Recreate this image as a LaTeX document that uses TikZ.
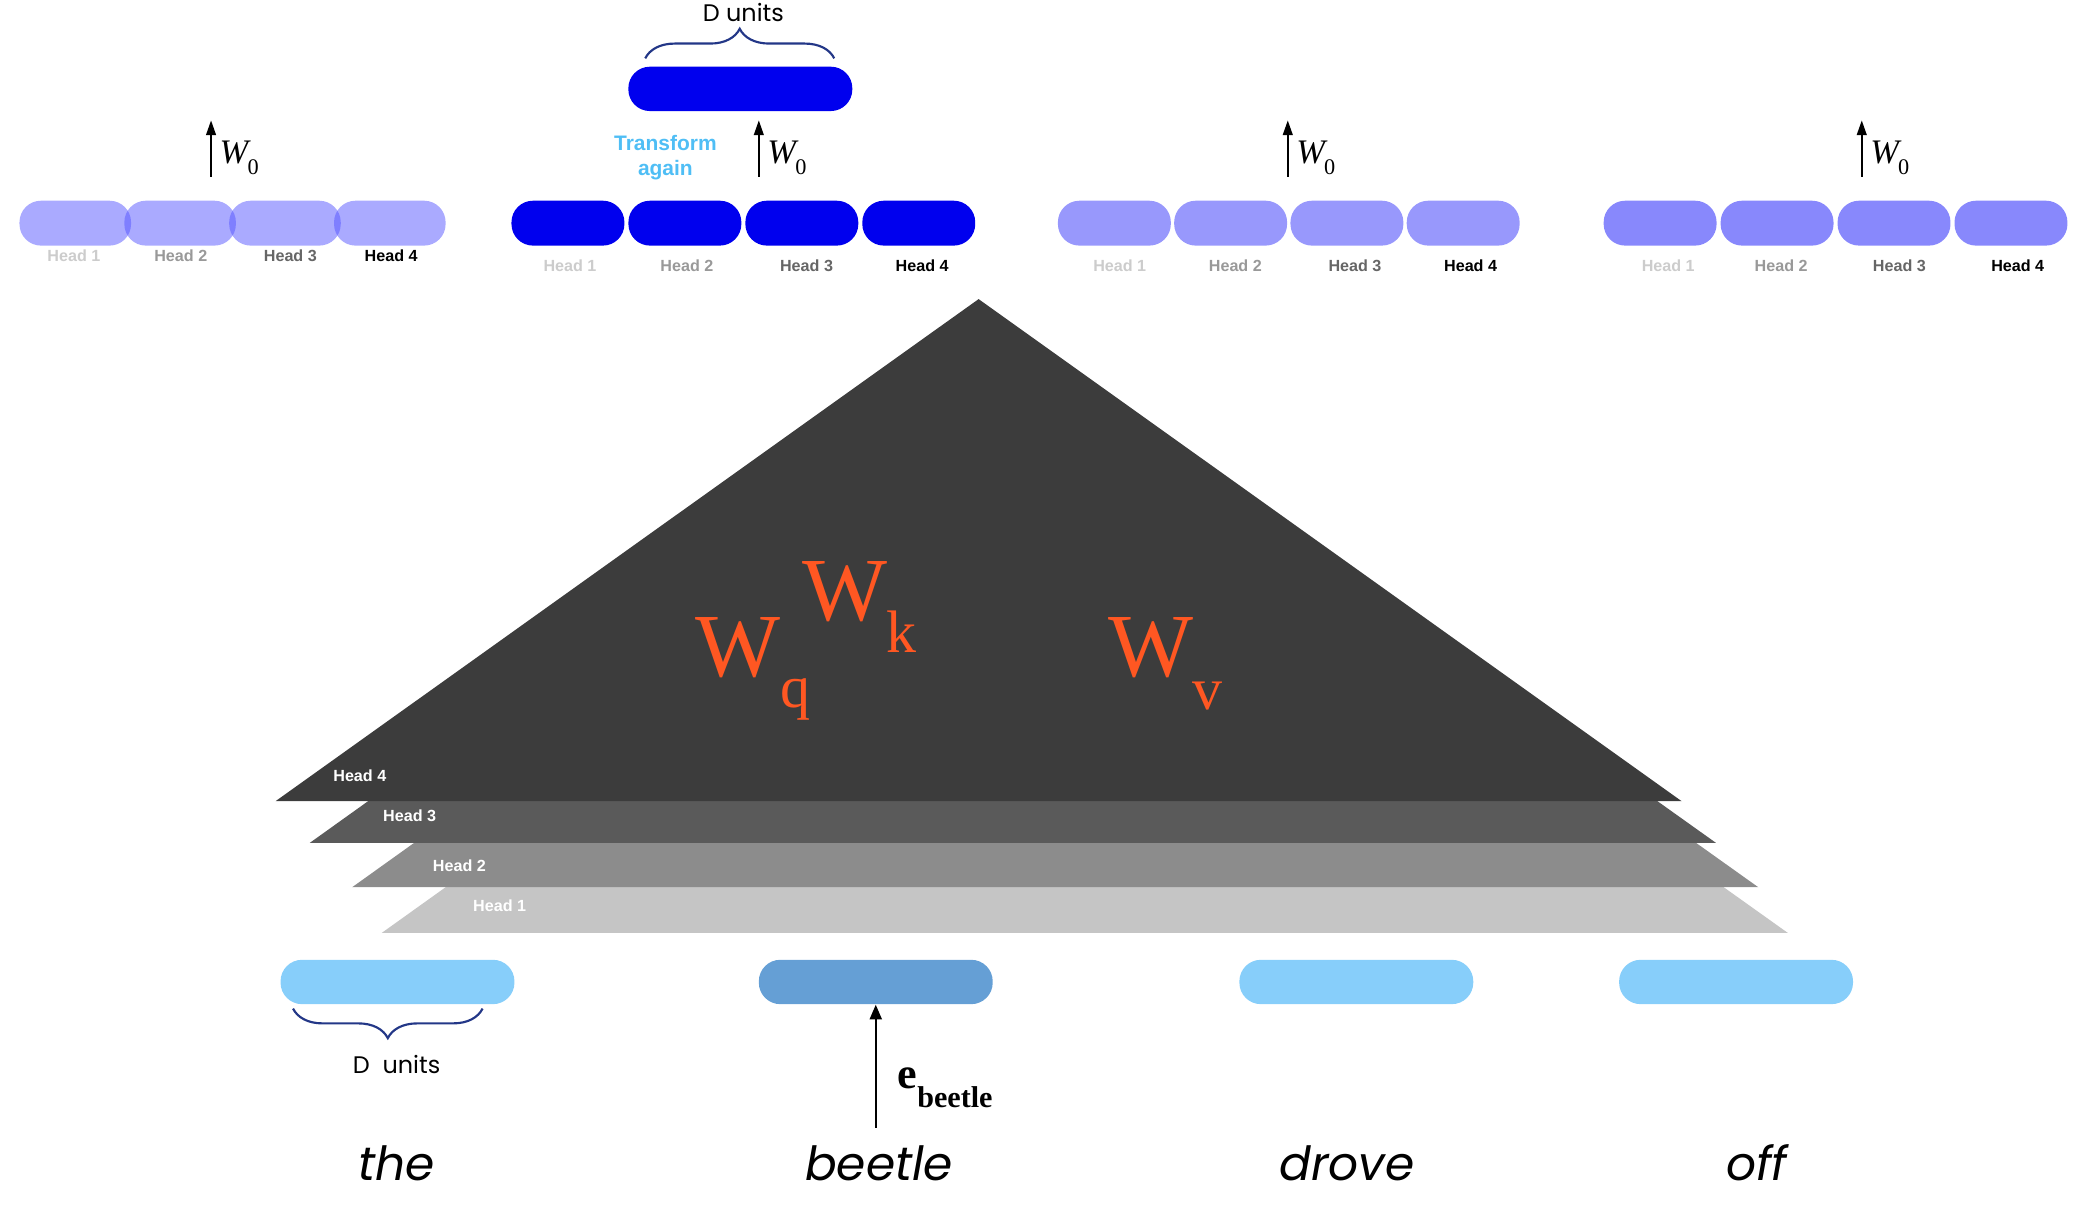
\documentclass[tikz,border=0pt]{standalone}
\usepackage{fontspec}
\setmainfont{Liberation Serif}
\newfontfamily\hsans{Liberation Sans}
\newfontfamily\popp{Poppins}
\usetikzlibrary{arrows.meta,decorations.pathreplacing}
\definecolor{gA}{RGB}{85,85,255}
\definecolor{gB}{RGB}{0,0,238}
\definecolor{gC}{RGB}{152,152,252}
\definecolor{gD}{RGB}{136,136,252}
\definecolor{skyp}{RGB}{135,206,250}
\definecolor{steelp}{RGB}{101,159,213}
\definecolor{tA}{RGB}{60,60,60}
\definecolor{tB}{RGB}{90,90,90}
\definecolor{tC}{RGB}{140,140,140}
\definecolor{tD}{RGB}{197,197,197}
\definecolor{wred}{RGB}{255,87,34}
\definecolor{tblue}{RGB}{79,190,245}
\definecolor{brnavy}{RGB}{35,55,135}
\definecolor{hl1}{RGB}{204,204,204}
\definecolor{hl2}{RGB}{153,153,153}
\definecolor{hl3}{RGB}{102,102,102}
\newcommand{\wzero}{{\itshape W}\kern-0.3pt\raisebox{-4pt}{\fontsize{8.3}{9}\selectfont 0}}
\begin{document}
\begin{tikzpicture}[x=0.5pt,y=-0.5pt,
  pill/.style={rectangle, rounded corners=8pt, minimum width=42pt, minimum height=16.7pt, inner sep=0pt, draw=none},
  bigpill/.style={rectangle, rounded corners=8pt, minimum width=87pt, minimum height=16.5pt, inner sep=0pt, draw=none},
  hlab/.style={anchor=base, inner sep=0pt, font=\hsans\bfseries\fontsize{6}{7}\selectfont},
  tlab/.style={anchor=base west, inner sep=0pt, text=white, font=\hsans\bfseries\fontsize{6}{7}\selectfont},
  wlab/.style={anchor=base west, inner sep=0pt, font=\fontsize{12.8}{15}\selectfont},
  uparrow/.style={-{Triangle[length=5.5pt,width=3.6pt]}, line width=0.75pt, black},
  bigw/.style={anchor=base west, inner sep=0pt, text=wred, font=\fontsize{33.5}{40}\selectfont},
  subw/.style={anchor=base west, inner sep=0pt, text=wred, font=\fontsize{22.3}{26}\selectfont},
  word/.style={anchor=base, inner sep=0pt, font=\popp\itshape\fontsize{17.5}{21}\selectfont},
  dunits/.style={anchor=base, inner sep=0pt, font=\popp\fontsize{8.9}{11}\selectfont},
  bracestyle/.style={draw=brnavy, line width=0.8pt, decorate, decoration={brace, amplitude=11pt}}
]
\useasboundingbox (0,0) rectangle (1560,902);

% ---- pyramid layers ----
\fill[tD] (284,694) -- (806,320.5) -- (1330,694) -- cycle;
\fill[tC] (262,660) -- (784,286.5) -- (1308,660) -- cycle;
\fill[tB] (230.5,627) -- (752.5,253.5) -- (1276.5,627) -- cycle;
\fill[tA] (205,596) -- (728,222.5) -- (1251,596) -- cycle;
\node[tlab] (L4) at (247.6,581.6) {Head 4};
\node[tlab] (L3) at (284.7,611) {Head 3};
\node[tlab] (L2) at (321.7,648.6) {Head 2};
\node[tlab] (L1) at (351.6,678) {Head 1};

% ---- W matrices ----
\node[bigw] (wq) at (517,503) {W};
\node[subw] (wqs) at (580,526) {q};
\node[bigw] (wk) at (596.4,461.4) {W};
\node[subw] (wks) at (659,485.7) {k};
\node[bigw] (wv) at (824,503.5) {W};
\node[subw] (wvs) at (887,528) {v};

% ---- group 1 (the) ----
\foreach \c/\n in {56/a,134/b,212/c,290/d}{
  \node[pill, fill=gA, fill opacity=0.5, minimum width=41.5pt] (g1\n) at (\c,166) {};
}
\node[hlab, text=hl1] (g1l1) at (55,194.7) {Head 1};
\node[hlab, text=hl2] (g1l2) at (134.5,194.7) {Head 2};
\node[hlab, text=hl3] (g1l3) at (216,194.7) {Head 3};
\node[hlab, text=black] (g1l4) at (291,194.7) {Head 4};
\coordinate (g1s) at (157,131.5);
\coordinate (g1e) at (157,89.5);
\draw[uparrow] (g1s) -- (g1e);
\node[wlab] (g1w) at (163,121.5) {\wzero};

% ---- group 2 (beetle) ----
\foreach \c/\n in {422.5/a,509.5/b,596.5/c,683.5/d}{
  \node[pill, fill=gB] (g2\n) at (\c,166) {};
}
\node[hlab, text=hl1] (g2l1) at (424,202) {Head 1};
\node[hlab, text=hl2] (g2l2) at (511,202) {Head 2};
\node[hlab, text=hl3] (g2l3) at (600,202) {Head 3};
\node[hlab, text=black] (g2l4) at (686,202) {Head 4};
\coordinate (g2s) at (564.5,131.5);
\coordinate (g2e) at (564.5,89.5);
\draw[uparrow] (g2s) -- (g2e);
\node[wlab] (g2w) at (570.5,121.5) {\wzero};
\node[anchor=north, inner sep=0pt, align=center, text=tblue,
      font=\hsans\bfseries\fontsize{7.8}{9.5}\selectfont] (trans) at (495,100) {Transform\\again};
\node[bigpill, fill=gB, minimum width=83.3pt] (top) at (550.75,66.1) {};
\coordinate (tbl) at (480,43.4);
\coordinate (tbr) at (620.6,43.4);
\draw[bracestyle] (tbl) -- (tbr);
\node[dunits] (tdu) at (553,16) {D units};

% ---- group 3 (drove) ----
\foreach \c/\n in {829/a,915.5/b,1002/c,1088.5/d}{
  \node[pill, fill=gC] (g3\n) at (\c,166) {};
}
\node[hlab, text=hl1] (g3l1) at (833,202) {Head 1};
\node[hlab, text=hl2] (g3l2) at (919,202) {Head 2};
\node[hlab, text=hl3] (g3l3) at (1008,202) {Head 3};
\node[hlab, text=black] (g3l4) at (1094,202) {Head 4};
\coordinate (g3s) at (958,131.5);
\coordinate (g3e) at (958,89.5);
\draw[uparrow] (g3s) -- (g3e);
\node[wlab] (g3w) at (964,121.5) {\wzero};

% ---- group 4 (off) ----
\foreach \c/\n in {1235/a,1322/b,1409/c,1496/d}{
  \node[pill, fill=gD] (g4\n) at (\c,166) {};
}
\node[hlab, text=hl1] (g4l1) at (1241,202) {Head 1};
\node[hlab, text=hl2] (g4l2) at (1325,202) {Head 2};
\node[hlab, text=hl3] (g4l3) at (1413,202) {Head 3};
\node[hlab, text=black] (g4l4) at (1501,202) {Head 4};
\coordinate (g4s) at (1385,131.5);
\coordinate (g4e) at (1385,89.5);
\draw[uparrow] (g4s) -- (g4e);
\node[wlab] (g4w) at (1391,121.5) {\wzero};

% ---- bottom embeddings ----
\node[bigpill, fill=skyp] (ethe) at (295.7,730.5) {};
\node[bigpill, fill=steelp] (ebeetle) at (651.5,730.5) {};
\node[bigpill, fill=skyp] (edrove) at (1009,730.5) {};
\node[bigpill, fill=skyp] (eoff) at (1291.5,730.5) {};

\coordinate (bbl) at (218,750.3);
\coordinate (bbr) at (359,750.3);
\draw[bracestyle, decoration={brace, mirror, amplitude=11pt}] (bbl) -- (bbr);
\node[dunits] (bdu) at (295,798.7) {D\ \ units};

\coordinate (ebs) at (651.5,839);
\draw[-{Triangle[length=5.5pt,width=4.5pt]}, line width=0.75pt] (ebs) -- (ebeetle.south);
\node[anchor=base west, inner sep=0pt, font=\bfseries\fontsize{16.4}{19}\selectfont] (eb) at (667,810) {e};
\node[anchor=base west, inner sep=0pt, font=\bfseries\fontsize{11.2}{13}\selectfont] (ebsub) at (682,824) {beetle};

% ---- words ----
\node[word] (wthe) at (295,878) {the};
\node[word] (wbeetle) at (654,878) {beetle};
\node[word] (wdrove) at (1002,878) {drove};
\node[word] (woff) at (1307,878) {off};
\end{tikzpicture}
\end{document}
